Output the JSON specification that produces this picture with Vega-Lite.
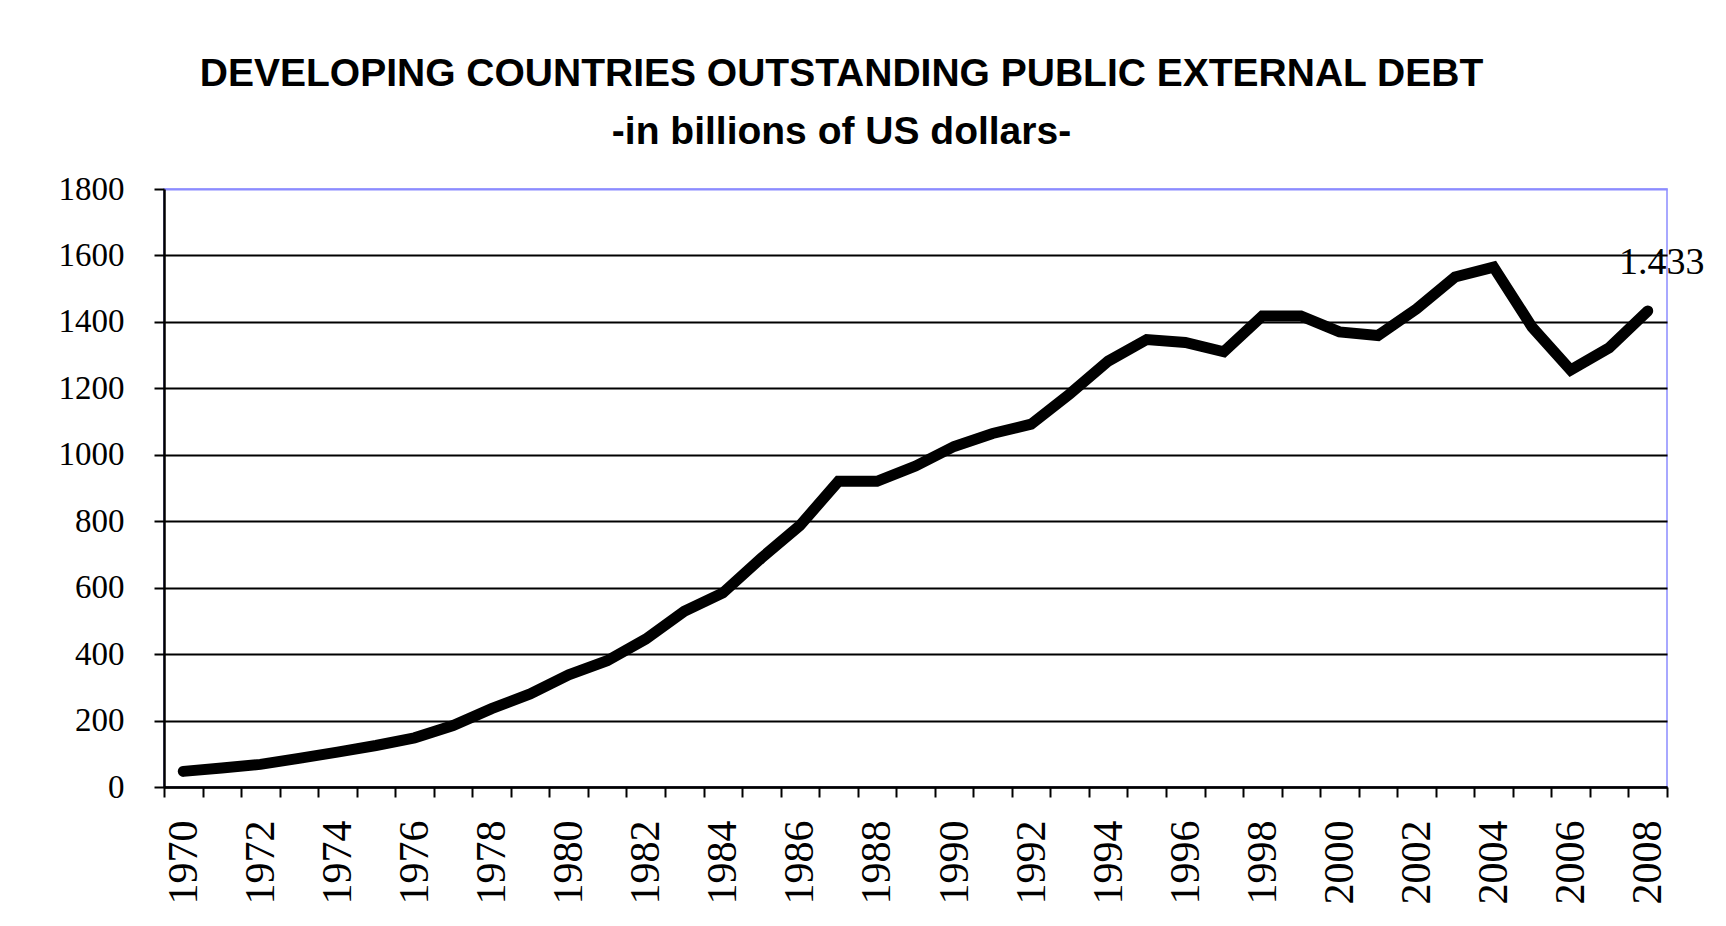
{
  "$schema": "https://vega.github.io/schema/vega-lite/v6.json",
  "width": 1503,
  "height": 598,
  "autosize": {"type": "none"},
  "padding": {"left": 164, "top": 189, "right": 59, "bottom": 139},
  "background": "white",
  "title": {
    "text": ["DEVELOPING COUNTRIES OUTSTANDING PUBLIC EXTERNAL DEBT", "-in billions of US dollars-"],
    "font": "Liberation Sans",
    "fontSize": 39,
    "fontWeight": "bold",
    "color": "black",
    "lineHeight": 58,
    "anchor": "middle",
    "dx": -74,
    "offset": 21
  },
  "config": {
    "view": {"stroke": "#8c8cff", "strokeWidth": 1.5},
    "axis": {"labelFont": "Liberation Serif", "labelColor": "black", "domainColor": "black", "tickColor": "black", "titleColor": "black"}
  },
  "data": {
    "values": [
      {"year": 1970, "debt": 47},
      {"year": 1971, "debt": 57},
      {"year": 1972, "debt": 68},
      {"year": 1973, "debt": 86},
      {"year": 1974, "debt": 105},
      {"year": 1975, "debt": 125},
      {"year": 1976, "debt": 148},
      {"year": 1977, "debt": 185},
      {"year": 1978, "debt": 236},
      {"year": 1979, "debt": 280},
      {"year": 1980, "debt": 338},
      {"year": 1981, "debt": 380},
      {"year": 1982, "debt": 445},
      {"year": 1983, "debt": 529},
      {"year": 1984, "debt": 584},
      {"year": 1985, "debt": 689},
      {"year": 1986, "debt": 787},
      {"year": 1987, "debt": 920},
      {"year": 1988, "debt": 920},
      {"year": 1989, "debt": 966},
      {"year": 1990, "debt": 1025},
      {"year": 1991, "debt": 1064},
      {"year": 1992, "debt": 1092},
      {"year": 1993, "debt": 1183},
      {"year": 1994, "debt": 1282},
      {"year": 1995, "debt": 1347},
      {"year": 1996, "debt": 1338},
      {"year": 1997, "debt": 1310},
      {"year": 1998, "debt": 1418},
      {"year": 1999, "debt": 1418},
      {"year": 2000, "debt": 1370},
      {"year": 2001, "debt": 1359},
      {"year": 2002, "debt": 1439},
      {"year": 2003, "debt": 1535},
      {"year": 2004, "debt": 1565},
      {"year": 2005, "debt": 1384},
      {"year": 2006, "debt": 1255},
      {"year": 2007, "debt": 1322},
      {"year": 2008, "debt": 1433}
    ]
  },
  "encoding": {
    "x": {
      "field": "year",
      "type": "ordinal",
      "bandPosition": 0.5,
      "scale": {"type": "band", "paddingInner": 0, "paddingOuter": 0},
      "axis": {
        "title": null,
        "labelAngle": 270,
        "labelFontSize": 42,
        "labelPadding": 23,
        "tickSize": 10,
        "tickWidth": 2,
        "tickBand": "extent",
        "domainWidth": 2.5,
        "labelExpr": "datum.value % 2 == 0 ? datum.label : ''",
        "grid": false
      }
    },
    "y": {
      "field": "debt",
      "type": "quantitative",
      "scale": {"domain": [0, 1800], "nice": false},
      "axis": {
        "title": null,
        "values": [0, 200, 400, 600, 800, 1000, 1200, 1400, 1600, 1800],
        "format": "d",
        "labelFontSize": 33,
        "labelPadding": 30,
        "tickSize": 10,
        "tickWidth": 2,
        "domainWidth": 2.5,
        "grid": true,
        "gridColor": {"condition": {"test": "datum.value == 1800", "value": "#8c8cff"}, "value": "black"},
        "gridWidth": 2,
        "gridOpacity": 1
      }
    }
  },
  "layer": [
    {
      "mark": {"type": "line", "color": "black", "strokeWidth": 11, "strokeCap": "round", "strokeJoin": "miter"}
    },
    {
      "transform": [
        {"filter": "datum.year == 2008"},
        {"calculate": "replace(format(datum.debt, ','), ',', '.')", "as": "label"}
      ],
      "mark": {"type": "text", "font": "Liberation Serif", "fontSize": 38, "color": "black", "align": "center", "baseline": "alphabetic", "dx": 14, "dy": -37},
      "encoding": {"text": {"field": "label"}}
    }
  ]
}
